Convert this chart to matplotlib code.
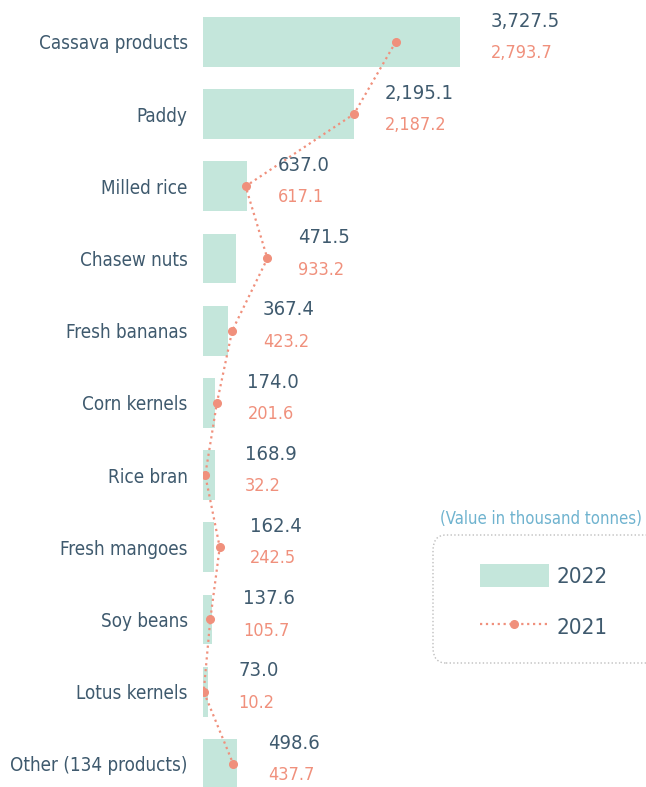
import matplotlib.pyplot as plt
from matplotlib.lines import Line2D
from matplotlib.patches import Patch, FancyBboxPatch

# Data (thousand tonnes)
products = ['Cassava products', 'Paddy', 'Milled rice', 'Chasew nuts', 'Fresh bananas',
            'Corn kernels', 'Rice bran', 'Fresh mangoes', 'Soy beans', 'Lotus kernels',
            'Other (134 products)']
val_2022 = [3727.5, 2195.1, 637.0, 471.5, 367.4, 174.0, 168.9, 162.4, 137.6, 73.0, 498.6]
val_2021 = [2793.7, 2187.2, 617.1, 933.2, 423.2, 201.6, 32.2, 242.5, 105.7, 10.2, 437.7]

bar_color = '#c4e6db'
line_color = '#f0907c'
text_color = '#3f5a6e'
note_color = '#6fb3cf'

plt.rcParams['font.family'] = ['DejaVu Sans']
plt.rcParams['font.stretch'] = 'condensed'

W, H = 646, 787
fig = plt.figure(figsize=(W / 100, H / 100), dpi=100)
ax = fig.add_axes([203 / W, 0, 1 - 203 / W, 1])

ypos = list(range(len(products)))
ax.barh(ypos, val_2022, height=0.69, color=bar_color, zorder=1)
ax.plot(val_2021, ypos, color=line_color, linestyle=':', linewidth=1.6,
        marker='o', markersize=5.5, zorder=3)

# value labels
for i, (a, b) in enumerate(zip(val_2022, val_2021)):
    x = max(a, b)
    ax.annotate(f'{a:,.1f}', (x, i), xytext=(22, 15), textcoords='offset points',
                ha='left', va='center', fontsize=14.5, color=text_color)
    ax.annotate(f'{b:,.1f}', (x, i), xytext=(22, -8), textcoords='offset points',
                ha='left', va='center', fontsize=13, color=line_color)

ax.set_yticks(ypos)
ax.set_yticklabels(products, fontsize=13.5, color=text_color)
ax.tick_params(axis='y', length=0, pad=11)
ax.set_xticks([])
ax.set_xlim(0, 6420)
ax.set_ylim(10.32, -0.58)
for s in ax.spines.values():
    s.set_visible(False)

# legend box (dotted, rounded, runs off the right edge)
box = FancyBboxPatch((433 / W, 1 - 663 / H), 260 / W, 128 / H,
                     boxstyle='round,pad=0,rounding_size=0.02',
                     transform=fig.transFigure, facecolor='none',
                     edgecolor='#bdbdbd', linestyle=':', linewidth=1.0)
fig.patches.append(box)

handles = [Patch(facecolor=bar_color, edgecolor='none'),
           Line2D([], [], color=line_color, linestyle=':', linewidth=1.6,
                  marker='o', markersize=5.5)]
leg = fig.legend(handles, ['2022', '2021'], loc='center left',
                 bbox_to_anchor=(480 / W, 1 - 601 / H),
                 fontsize=16, handlelength=3.1, handleheight=1.2,
                 labelspacing=1.25, borderpad=0, handletextpad=0.35,
                 borderaxespad=0, frameon=False)
for t in leg.get_texts():
    t.set_color(text_color)

fig.text(440 / W, 1 - 519 / H, '(Value in thousand tonnes)', fontsize=12,
         color=note_color, ha='left', va='center')

fig.savefig('out.png', dpi=100)
